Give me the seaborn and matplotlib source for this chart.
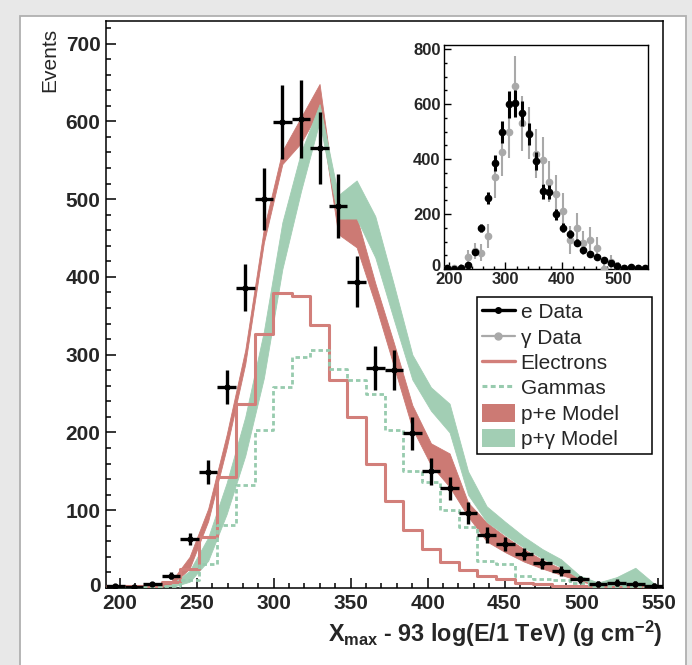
import numpy as np
import pandas as pd
import matplotlib
matplotlib.use("Agg")
import matplotlib.pyplot as plt
import matplotlib.transforms as mtransforms
import seaborn as sns
from matplotlib.patches import Rectangle, Patch
from matplotlib.lines import Line2D
from matplotlib.ticker import MultipleLocator

# ---------------- data ----------------
bin_centers = [197.0, 209.1, 221.2, 233.2, 245.3, 257.4, 269.4, 281.5, 293.6, 305.6,
               317.7, 329.8, 341.9, 353.9, 366.0, 378.1, 390.1, 402.2, 414.3, 426.3,
               438.4, 450.5, 462.6, 474.6, 486.7, 498.8, 510.8, 522.9, 535.0, 547.0]
bin_width = 12.07

e_data = [2, 1, 5, 16, 63, 149, 258, 386, 500, 599, 603, 566, 491, 394, 283, 280,
          199, 150, 128, 96, 68, 56, 44, 32, 22, 11, 5, 7, 5, 2]
e_err = [3, 3, 3, 5, 8, 15, 22, 30, 40, 48, 50, 46, 41, 33, 28, 26,
         21, 17, 15, 14, 10, 9, 8, 7, 6, 5, 4, 4, 4, 4]

g_data = [2, 3, 5, 45, 65, 60, 120, 335, 425, 500, 665, 530, 495, 420, 395, 318,
          272, 210, 106, 150, 95, 106, 75, 0, 25, 10, 5, 3, 2, 1]
g_err = [10, 10, 12, 25, 30, 30, 45, 75, 85, 95, 110, 100, 95, 90, 85, 75,
         70, 65, 50, 55, 45, 45, 40, 20, 25, 15, 10, 8, 8, 6]

electrons = [2, 2, 3, 8, 25, 66, 143, 237, 327, 379, 376, 338, 268, 220, 160, 112,
             75, 50, 33, 23, 16, 11, 7, 5, 3, 2, 2, 1, 1, 1]
gammas = [0, 0, 1, 3, 10, 31, 81, 132, 203, 258, 297, 306, 282, 267, 250, 203,
          151, 136, 100, 78, 35, 31, 16, 12, 10, 6, 3, 2, 2, 1]

pe_lo = [0, 0, 0, 3, 25, 86, 180, 288, 444, 545, 572, 615, 455, 438, 365, 285,
         205, 158, 130, 92, 60, 46, 34, 25, 17, 9, 3, 1, 0, 0]
pe_hi = [1, 1, 2, 8, 40, 102, 197, 306, 462, 562, 605, 648, 475, 477, 392, 315,
         235, 186, 173, 110, 84, 66, 50, 36, 25, 14, 6, 3, 2, 1]

pg_lo = [0, 0, 0, 1, 8, 35, 95, 170, 270, 410, 510, 600, 475, 475, 425, 345,
         268, 228, 200, 120, 85, 68, 52, 38, 27, 12, 3, 3, 5, 0]
pg_hi = [1, 1, 1, 4, 22, 65, 135, 220, 330, 470, 560, 622, 505, 524, 478, 390,
         300, 258, 237, 150, 105, 85, 66, 50, 37, 16, 7, 14, 26, 6]

main_xticks = [200, 250, 300, 350, 400, 450, 500, 550]
main_yticks = [0, 100, 200, 300, 400, 500, 600, 700]
inset_xticks = [200, 300, 400, 500]
inset_yticks = [0, 200, 400, 600, 800]

legend_labels = ["e Data", "\u03b3 Data", "Electrons", "Gammas", "p+e Model", "p+\u03b3 Model"]

# ---------------- style ----------------
sns.set_theme(style="ticks")
plt.rcParams['font.family'] = ['Liberation Sans', 'DejaVu Sans']
plt.rcParams['mathtext.fontset'] = 'custom'
plt.rcParams['mathtext.rm'] = 'Liberation Sans:bold'
plt.rcParams['mathtext.it'] = 'Liberation Sans:bold'
plt.rcParams['mathtext.bf'] = 'Liberation Sans:bold'
plt.rcParams['mathtext.default'] = 'rm'

RED_BAND = '#cc7a74'
GREEN_BAND = '#a2ceb4'
RED_LINE = '#d27f7a'
GREEN_LINE = '#97cbae'
GRAY = '#a9a9a9'

df = pd.DataFrame({'x': bin_centers, 'electrons': electrons, 'gammas': gammas,
                   'e': e_data, 'e_err': e_err, 'g': g_data, 'g_err': g_err,
                   'pe_lo': pe_lo, 'pe_hi': pe_hi, 'pg_lo': pg_lo, 'pg_hi': pg_hi})
edges = [c - bin_width / 2 for c in bin_centers] + [bin_centers[-1] + bin_width / 2]

W, H = 692, 665
fig = plt.figure(figsize=(W / 100, H / 100), dpi=100)
fig.patch.set_facecolor('#e8e8e8')
fig.add_artist(Rectangle((20 / W, -0.01), (686 - 20) / W, (H - 16) / H + 0.01,
                         transform=fig.transFigure, facecolor='white',
                         edgecolor='#b0b0b0', lw=1.3, zorder=0))

ax = fig.add_axes([106 / W, (H - 588) / H, (663 - 106) / W, (588 - 21) / H])
ax.set_facecolor('white')

# model bands
ax.fill_between(df['x'], df['pe_lo'], df['pe_hi'], color=RED_BAND, lw=0.6,
                edgecolor=RED_BAND, zorder=2)
ax.fill_between(df['x'], df['pg_lo'], df['pg_hi'], color=GREEN_BAND, lw=0.6,
                edgecolor=GREEN_BAND, zorder=2.1)

# template histograms
sns.histplot(data=df, x='x', weights='electrons', bins=edges, element='step',
             fill=False, color=RED_LINE, linewidth=2.2, ax=ax, zorder=3)
sns.histplot(data=df, x='x', weights='gammas', bins=edges, element='step',
             fill=False, color=GREEN_LINE, linewidth=2.0, linestyle=(0, (1.6, 1.1)),
             ax=ax, zorder=3)

# electron data
ax.errorbar(df['x'], df['e'], yerr=df['e_err'], xerr=bin_width / 2, fmt='o', ms=3.5,
            color='black', elinewidth=2.4, capsize=0, zorder=5)

ax.set_xlim(191, 553)
ax.set_ylim(0, 729)
ax.set_xlabel('')
ax.set_ylabel('')
ax.set_xticks(main_xticks)
ax.set_yticks(main_yticks)
ax.xaxis.set_minor_locator(MultipleLocator(10))
ax.yaxis.set_minor_locator(MultipleLocator(20))
ax.tick_params(which='both', direction='in', top=False, right=False, width=1.1,
               color='black', labelsize=15, pad=4)
ax.tick_params(which='major', length=7)
ax.tick_params(which='minor', length=3.5)
for lab in ax.get_xticklabels() + ax.get_yticklabels():
    lab.set_fontweight('bold')
for s in ax.spines.values():
    s.set_color('black')
    s.set_linewidth(1.1)
# ROOT-like: the "0" of the y axis sits a little above the axis line
ax.get_yticklabels()[0].set_transform(
    ax.get_yticklabels()[0].get_transform()
    + mtransforms.ScaledTranslation(0, 4 / 100, fig.dpi_scale_trans))

fig.text(50 / W, 1 - 28 / H, 'Events', rotation=90, ha='center', va='top', fontsize=15)
fig.text(663 / W, 1 - 634 / H, r'X$_{max}$ - 93 log(E/1 TeV) (g cm$^{-2}$)',
         ha='right', va='center', fontsize=16.8, fontweight='bold')

# legend
handles = [
    Line2D([], [], color='black', lw=2.4, marker='o', ms=4),
    Line2D([], [], color=GRAY, lw=1.6, marker='o', ms=5),
    Line2D([], [], color=RED_LINE, lw=2.4),
    Line2D([], [], color=GREEN_LINE, lw=2.2, linestyle=(0, (1.6, 1.1))),
    Patch(facecolor=RED_BAND, edgecolor='none'),
    Patch(facecolor=GREEN_BAND, edgecolor='none'),
]
leg = ax.legend(handles, legend_labels, loc='upper left',
                bbox_to_anchor=(477 / W, 1 - 297 / H, (652 - 477) / W, 0.0),
                bbox_transform=fig.transFigure, mode='expand', fontsize=15,
                frameon=True, fancybox=False, framealpha=1, edgecolor='black',
                borderaxespad=0, borderpad=0.25, labelspacing=0.25,
                handlelength=1.55, handleheight=0.95, handletextpad=0.3)
leg.get_frame().set_linewidth(1.1)
leg.set_zorder(6)

# inset
axi = fig.add_axes([444 / W, (H - 269) / H, (648 - 444) / W, (269 - 45) / H])
axi.set_facecolor('white')
axi.errorbar(df['x'], df['g'], yerr=df['g_err'], fmt='o', ms=4.5, color=GRAY,
             elinewidth=1.5, capsize=0, zorder=3)
axi.errorbar(df['x'], df['e'], yerr=df['e_err'], fmt='o', ms=4.5, color='black',
             elinewidth=2.2, capsize=0, zorder=4)
axi.set_xlim(191, 553)
axi.set_ylim(0, 815)
axi.set_xticks(inset_xticks)
axi.set_yticks(inset_yticks)
axi.xaxis.set_minor_locator(MultipleLocator(20))
axi.yaxis.set_minor_locator(MultipleLocator(50))
axi.tick_params(which='both', direction='in', top=False, right=False, width=1.0,
                color='black', labelsize=12, pad=2.5)
axi.tick_params(which='major', length=5)
axi.tick_params(which='minor', length=2.5)
for lab in axi.get_xticklabels() + axi.get_yticklabels():
    lab.set_fontweight('bold')
for s in axi.spines.values():
    s.set_color('black')
    s.set_linewidth(1.0)
axi.get_yticklabels()[0].set_transform(
    axi.get_yticklabels()[0].get_transform()
    + mtransforms.ScaledTranslation(0, 4 / 100, fig.dpi_scale_trans))

fig.savefig('out.png', dpi=100, facecolor=fig.get_facecolor())
